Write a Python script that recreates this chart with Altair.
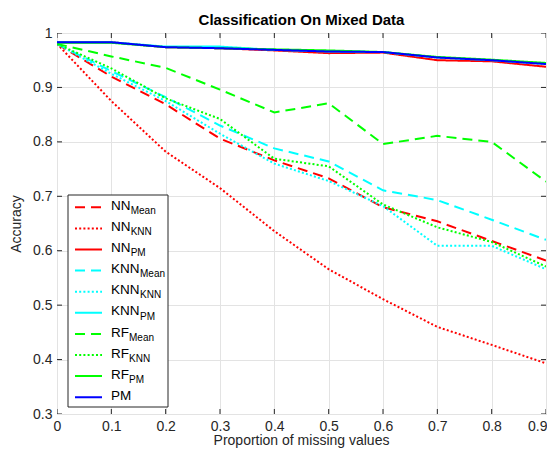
import altair as alt
import pandas as pd

# ---------------- data ----------------
x_vals = [0.0, 0.1, 0.2, 0.3, 0.4, 0.5, 0.6, 0.7, 0.8, 0.9]

series_names = ["NN_Mean", "NN_KNN", "NN_PM", "KNN_Mean", "KNN_KNN", "KNN_PM",
                "RF_Mean", "RF_KNN", "RF_PM", "PM"]
main_labels = ["NN", "NN", "NN", "KNN", "KNN", "KNN", "RF", "RF", "RF", "PM"]
sub_labels = ["Mean", "KNN", "PM", "Mean", "KNN", "PM", "Mean", "KNN", "PM", ""]

nn_mean = [0.980, 0.920, 0.869, 0.806, 0.766, 0.733, 0.680, 0.654, 0.618, 0.582]
nn_knn = [0.980, 0.875, 0.782, 0.715, 0.636, 0.566, 0.511, 0.460, 0.427, 0.393]
nn_pm = [0.983, 0.983, 0.974, 0.972, 0.968, 0.963, 0.964, 0.950, 0.948, 0.938]
knn_mean = [0.980, 0.930, 0.882, 0.830, 0.788, 0.764, 0.711, 0.693, 0.657, 0.620]
knn_knn = [0.980, 0.925, 0.875, 0.815, 0.760, 0.728, 0.682, 0.609, 0.609, 0.566]
knn_pm = [0.983, 0.983, 0.975, 0.975, 0.969, 0.966, 0.965, 0.955, 0.950, 0.943]
rf_mean = [0.980, 0.957, 0.936, 0.896, 0.854, 0.871, 0.796, 0.811, 0.800, 0.727]
rf_knn = [0.980, 0.935, 0.880, 0.842, 0.769, 0.755, 0.685, 0.643, 0.616, 0.571]
rf_pm = [0.982, 0.982, 0.974, 0.972, 0.970, 0.968, 0.965, 0.956, 0.951, 0.945]
pm = [0.983, 0.983, 0.974, 0.972, 0.969, 0.966, 0.965, 0.955, 0.950, 0.943]

series_values = [nn_mean, nn_knn, nn_pm, knn_mean, knn_knn, knn_pm,
                 rf_mean, rf_knn, rf_pm, pm]

x_ticks = [0.0, 0.1, 0.2, 0.3, 0.4, 0.5, 0.6, 0.7, 0.8, 0.9]
y_ticks = [0.3, 0.4, 0.5, 0.6, 0.7, 0.8, 0.9, 1.0]

chart_title = "Classification On Mixed Data"
x_title = "Proportion of missing values"
y_title = "Accuracy"

# ---------------- styles ----------------
W, H = 489, 381
colors = ["#ff0000"] * 3 + ["#00ffff"] * 3 + ["#00ff00"] * 3 + ["#0000ff"]
DASH = [10, 6]
DOT = [2, 2.2]
SOLID = [1, 0]
dashes = [DASH, DOT, SOLID, DASH, DOT, SOLID, DASH, DOT, SOLID, SOLID]

FONT = "Liberation Sans"
INK = "#262626"

xscale = alt.Scale(domain=[0, 0.9], nice=False, zero=False)
yscale = alt.Scale(domain=[0.3, 1.0], nice=False, zero=False)

xaxis = alt.Axis(values=x_ticks, title="",
                 labelExpr="datum.value == 0 ? '0' : format(datum.value, '.1f')",
                 labelAlign={"condition": {"test": "datum.value > 0.85", "value": "right"},
                             "value": "center"},
                 labelOffset={"condition": {"test": "datum.value > 0.85", "value": 1},
                              "value": 0},
                 domain=False, ticks=False, grid=True, gridColor="#e3e3e3",
                 labelPadding=5, labelFontSize=14, labelFont=FONT, labelColor=INK)
yaxis = alt.Axis(values=y_ticks, title=y_title,
                 labelExpr="datum.value == 1 ? '1' : format(datum.value, '.1f')",
                 domain=False, ticks=False, grid=True, gridColor="#e3e3e3",
                 labelPadding=5, labelFontSize=14, labelFont=FONT, labelColor=INK,
                 titleFontSize=14, titleFont=FONT, titleFontWeight="normal",
                 titleColor=INK, titlePadding=9)

layers = []
for name, vals, col, dsh in zip(series_names, series_values, colors, dashes):
    df = pd.DataFrame({"x": x_vals, "y": vals, "key": name})
    layers.append(
        alt.Chart(df).mark_line(strokeWidth=2, clip=True, strokeCap="butt").encode(
            x=alt.X("x:Q", scale=xscale, axis=xaxis),
            y=alt.Y("y:Q", scale=yscale, axis=yaxis),
            color=alt.value(col),
            strokeDash=alt.value(dsh),
        )
    )

# inward ticks on the four sides (outer half clipped away)
xt = pd.DataFrame({"x": x_ticks * 2, "y": [0.3] * len(x_ticks) + [1.0] * len(x_ticks)})
yt = pd.DataFrame({"y": y_ticks * 2, "x": [0.0] * len(y_ticks) + [0.9] * len(y_ticks)})
tick_x = alt.Chart(xt).mark_tick(orient="vertical", size=10, thickness=1,
                                 color=INK, clip=True, opacity=1).encode(
    x=alt.X("x:Q", scale=xscale, axis=xaxis), y=alt.Y("y:Q", scale=yscale, axis=yaxis))
tick_y = alt.Chart(yt).mark_tick(orient="horizontal", size=10, thickness=1,
                                 color=INK, clip=True, opacity=1).encode(
    x=alt.X("x:Q", scale=xscale, axis=xaxis), y=alt.Y("y:Q", scale=yscale, axis=yaxis))

# ---------------- titles as text ----------------
one = pd.DataFrame({"t": [chart_title], "xt": [x_title]})
title_mark = alt.Chart(one).mark_text(fontSize=15, fontWeight="bold", font=FONT,
                                      color="#000", align="center",
                                      baseline="alphabetic").encode(
    x=alt.value(W / 2), y=alt.value(-8), text="t:N")
xtitle_mark = alt.Chart(one).mark_text(fontSize=14, font=FONT, color=INK,
                                       align="center", baseline="alphabetic").encode(
    x=alt.value(W / 2), y=alt.value(H + 31), text="xt:N")

# ---------------- custom legend (with subscripts) ----------------
LT = 162  # legend box top (px inside plot)
leg = pd.DataFrame({"key": series_names, "main": main_labels, "sub": sub_labels,
                    "i": list(range(len(series_names)))})
leg_box = alt.Chart(pd.DataFrame({"a": [0]})).mark_rect(
    fill="white", stroke=INK, strokeWidth=1).encode(
    x=alt.value(11), x2=alt.value(111), y=alt.value(LT), y2=alt.value(LT + 212))

leg_base = alt.Chart(leg).transform_calculate(
    ly=f"{LT + 12.3} + datum.i * 21.1",
    ty=f"{LT + 12.3 + 2.6} + datum.i * 21.1",
    sy=f"{LT + 12.3 + 6.7} + datum.i * 21.1",
    sx="54 + (datum.main == 'KNN' ? 29 : (datum.main == 'RF' ? 18 : 19.7))",
)
leg_lines = leg_base.mark_rule(strokeWidth=2, strokeCap="butt").encode(
    x=alt.value(18), x2=alt.value(45),
    y=alt.Y("ly:Q", scale=None, axis=None),
    color=alt.Color("key:N", scale=alt.Scale(domain=series_names, range=colors), legend=None),
    strokeDash=alt.StrokeDash("key:N", scale=alt.Scale(domain=series_names, range=dashes),
                              legend=None),
)
leg_main = leg_base.mark_text(align="left", baseline="alphabetic", fontSize=13.5,
                              font=FONT, color="#000").encode(
    x=alt.value(54), y=alt.Y("ty:Q", scale=None, axis=None), text="main:N")
leg_sub = leg_base.mark_text(align="left", baseline="alphabetic", fontSize=10,
                             font=FONT, color="#000").encode(
    x=alt.X("sx:Q", scale=None, axis=None), y=alt.Y("sy:Q", scale=None, axis=None),
    text="sub:N")

chart = alt.layer(*layers, tick_x, tick_y, leg_box, leg_lines, leg_main, leg_sub,
                  title_mark, xtitle_mark).properties(
    width=W, height=H,
    autosize=alt.AutoSizeParams(type="none"),
    padding={"left": 49, "top": 25, "right": 1, "bottom": 34},
).configure_view(stroke=INK, strokeWidth=1).configure(background="white")

chart.save("out.html", embed_options={"renderer": "svg", "actions": False})
